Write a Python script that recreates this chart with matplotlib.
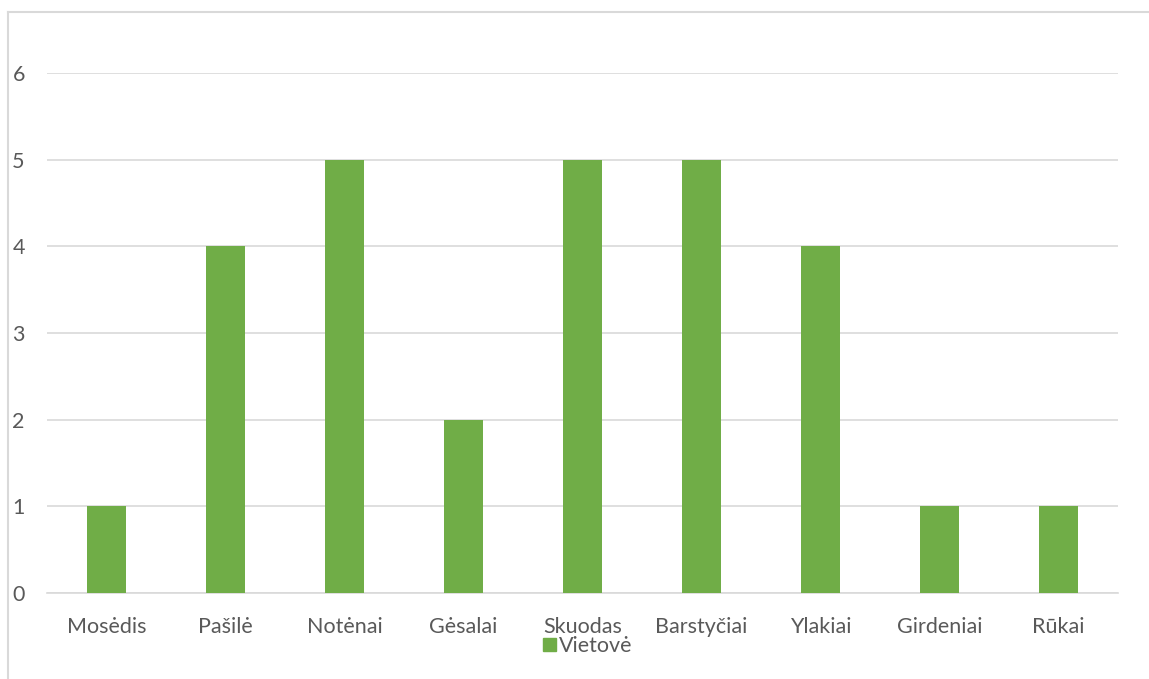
import matplotlib.pyplot as plt
from matplotlib.lines import Line2D
from matplotlib.patches import Patch

# data
places = ['Mosėdis', 'Pašilė', 'Notėnai', 'Gėsalai', 'Skuodas',
          'Barstyčiai', 'Ylakiai', 'Girdeniai', 'Rūkai']
counts = [1, 4, 5, 2, 5, 5, 4, 1, 1]
y_ticks = [0, 1, 2, 3, 4, 5, 6]
series_name = 'Vietovė'

plt.rcParams['font.family'] = ['Lato', 'DejaVu Sans']
text_col = '#595959'
grid_col = '#d9d9d9'
bar_col = '#70ad47'

fig = plt.figure(figsize=(11.49, 6.79), dpi=100)
ax = fig.add_axes([47 / 1149, 1 - 593 / 679, (1118 - 47) / 1149, (593 - 73) / 679])

x = list(range(len(places)))
ax.bar(x, counts, width=0.32, color=bar_col, zorder=3)

ax.set_xlim(-0.5, len(places) - 0.5)
ax.set_ylim(0, 6)
ax.set_yticks(y_ticks)
ax.set_xticks(x)
ax.set_xticklabels(places)
ax.grid(axis='y', color=grid_col, linewidth=1.2, zorder=0)
for s in ['top', 'right', 'left']:
    ax.spines[s].set_visible(False)
ax.spines['bottom'].set_color(grid_col)
ax.spines['bottom'].set_linewidth(1.2)
ax.tick_params(axis='both', length=0, labelsize=15.5, colors=text_col)
ax.tick_params(axis='y', pad=16)
ax.tick_params(axis='x', pad=17)

# chart frame (only top and left visible in the crop)
fig.add_artist(Line2D([8 / 1149, 1], [1 - 12 / 679, 1 - 12 / 679],
                      transform=fig.transFigure, color=grid_col, lw=1.5))
fig.add_artist(Line2D([8 / 1149, 8 / 1149], [1 - 12 / 679, 0],
                      transform=fig.transFigure, color=grid_col, lw=1.5))

fig.legend(handles=[Patch(color=bar_col, label=series_name)],
           loc='center', bbox_to_anchor=(588 / 1149, 1 - 646 / 679),
           frameon=False, fontsize=15.5, labelcolor=text_col,
           handlelength=0.6, handleheight=0.6, handletextpad=0.15,
           borderpad=0, borderaxespad=0)

fig.savefig('out.png', dpi=100)
